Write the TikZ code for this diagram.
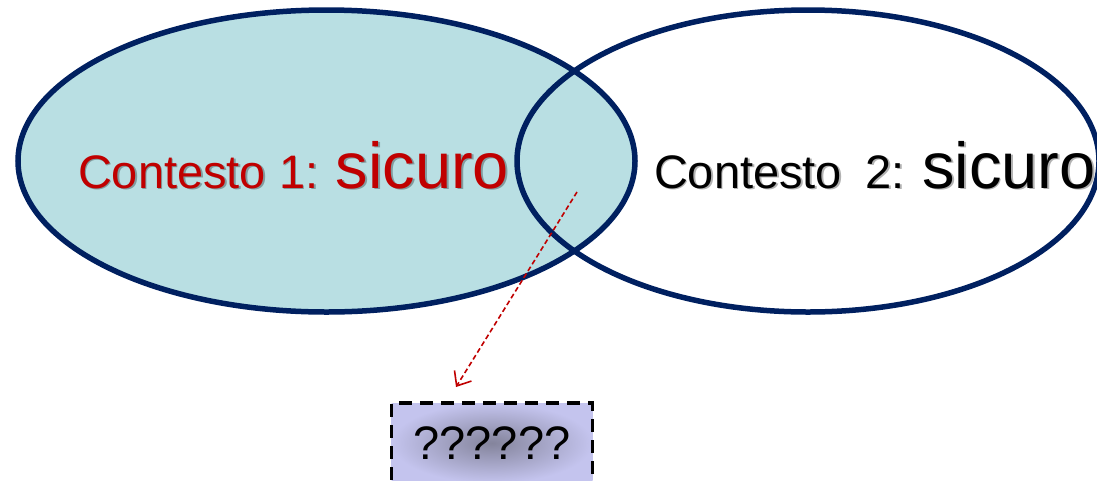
\documentclass[tikz,border=0pt]{standalone}
\usepackage{fontspec}
\setmainfont{Liberation Sans}
\usetikzlibrary{shapes.geometric,arrows.meta}
\definecolor{navy}{HTML}{002060}
\definecolor{tealfill}{HTML}{B9DFE3}
\definecolor{darkred}{HTML}{C00000}
\definecolor{lav}{HTML}{C4C4EE}
\definecolor{midgray}{HTML}{84849C}
\tikzset{
  setell/.style={ellipse, draw=navy, line width=5.5pt, inner sep=0pt, outer sep=0pt, minimum height=302pt},
  lbl/.style={anchor=base west, inner sep=0pt, outer sep=0pt},
  shadowlbl/.style={lbl, text=black, opacity=0.3},
  qbox/.style={draw=black, line width=3.5pt, dash pattern=on 13pt off 8pt, inner color=midgray, outer color=lav, minimum width=201pt, minimum height=80pt, inner sep=0pt, font=\fontsize{47}{50}\selectfont},
  link/.style={draw=darkred, line width=1.6pt, dash pattern=on 5pt off 3pt, -{Straight Barb[length=12pt,width=20pt]}}
}
\newcommand{\medw}{\fontsize{47}{50}\selectfont}
\newcommand{\bigw}{\fontsize{65}{70}\selectfont}
\begin{document}
\begin{tikzpicture}[x=1pt,y=-1pt]
\useasboundingbox (0,0) rectangle (1097,480);
\node[setell, fill=tealfill, minimum width=617pt] (e1) at (326.5,161) {};
\node[setell, minimum width=582pt] (e2) at (808,161) {};
% text shadows
\node[shadowlbl] (s1sh) at (79.8,189.8) {\medw Contesto 1: \bigw sicuro};
\node[shadowlbl] (s2sh) at (655.8,189.8) {\medw Contesto\hspace{0.5em}2: \bigw sicuro};
\node[lbl, text=darkred] (s1) at (78,188) {\medw Contesto 1: \bigw sicuro};
\node[lbl, text=black] (s2) at (654,188) {\medw Contesto\hspace{0.5em}2: \bigw sicuro};
\node[qbox] (q) at (492,443) {??????};
\coordinate (from) at (577,192);
\coordinate (to) at (456,387);
\draw[link] (from) -- (to);
\end{tikzpicture}
\end{document}
